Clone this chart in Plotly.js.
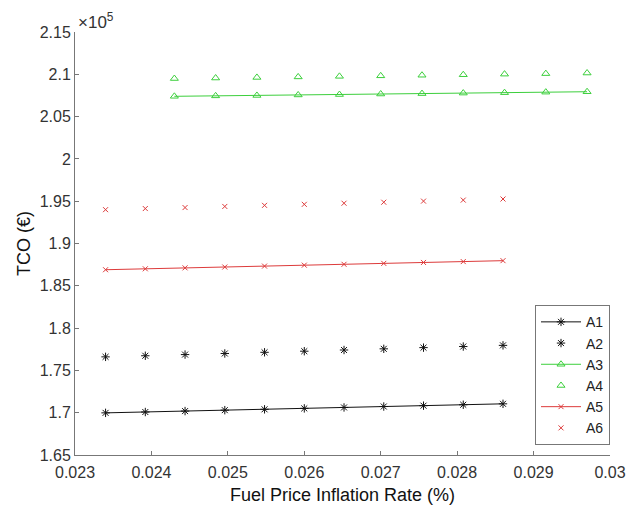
<!DOCTYPE html>
<html>
<head>
<meta charset="utf-8">
<script src="https://cdn.plot.ly/plotly-3.0.1.min.js"></script>
<style>html,body{margin:0;padding:0;background:#fff;}#chart{width:640px;height:513px;}</style>
</head>
<body>
<div id="chart"></div>
<script>
// x values (fuel price inflation rate)
const xLow = [0.0234, 0.02392, 0.02444, 0.02496, 0.02548, 0.026, 0.02652, 0.02704, 0.02756, 0.02808, 0.0286];
const xHigh = [0.0243, 0.02484, 0.02538, 0.02592, 0.02646, 0.027, 0.02754, 0.02808, 0.02862, 0.02916, 0.0297];

// TCO values (EUR)
const A1 = [169980, 170080, 170190, 170300, 170400, 170510, 170620, 170730, 170830, 170940, 171050];
const A2 = [176600, 176730, 176870, 177000, 177140, 177270, 177410, 177550, 177690, 177820, 177960];
const A3 = [207400, 207450, 207500, 207560, 207610, 207670, 207720, 207780, 207830, 207890, 207940];
const A4 = [209500, 209560, 209630, 209690, 209760, 209820, 209890, 209950, 210020, 210080, 210150];
const A5 = [186900, 187010, 187120, 187220, 187330, 187440, 187540, 187650, 187760, 187860, 187970];
const A6 = [194000, 194130, 194250, 194380, 194510, 194630, 194760, 194880, 195010, 195130, 195260];

const seriesNames = ['A1', 'A2', 'A3', 'A4', 'A5', 'A6'];

const yTickVals = [165000, 170000, 175000, 180000, 185000, 190000, 195000, 200000, 205000, 210000, 215000];
const yTickText = ['1.65', '1.7', '1.75', '1.8', '1.85', '1.9', '1.95', '2', '2.05', '2.1', '2.15'];
const xTickVals = [0.023, 0.024, 0.025, 0.026, 0.027, 0.028, 0.029, 0.03];
const xTickText = ['0.023', '0.024', '0.025', '0.026', '0.027', '0.028', '0.029', '0.03'];

const BLACK = '#111111', GREEN = '#3ccf3c', RED = '#dd3b3b';
const FONT = 'Liberation Sans, Arial, sans-serif';

const traces = [
  {x: xLow, y: A1, name: seriesNames[0], mode: 'lines+markers',
   line: {color: BLACK, width: 1}, marker: {symbol: 'asterisk-open', size: 7, color: BLACK, line: {color: BLACK, width: 1}}},
  {x: xLow, y: A2, name: seriesNames[1], mode: 'markers',
   marker: {symbol: 'asterisk-open', size: 7, color: BLACK, line: {color: BLACK, width: 1}}},
  {x: xHigh, y: A3, name: seriesNames[2], mode: 'lines+markers',
   line: {color: GREEN, width: 1}, marker: {symbol: 'triangle-up-open', size: 7, color: GREEN, line: {color: GREEN, width: 1}}},
  {x: xHigh, y: A4, name: seriesNames[3], mode: 'markers',
   marker: {symbol: 'triangle-up-open', size: 7, color: GREEN, line: {color: GREEN, width: 1}}},
  {x: xLow, y: A5, name: seriesNames[4], mode: 'lines+markers',
   line: {color: RED, width: 1}, marker: {symbol: 'x-thin-open', size: 5, color: RED, line: {color: RED, width: 1}}},
  {x: xLow, y: A6, name: seriesNames[5], mode: 'markers',
   marker: {symbol: 'x-thin-open', size: 5, color: RED, line: {color: RED, width: 1}}}
];

const layout = {
  width: 640, height: 513,
  margin: {l: 75, r: 30, t: 32, b: 58, pad: 0},
  paper_bgcolor: '#fff', plot_bgcolor: '#fff',
  font: {family: FONT, color: '#333', size: 16},
  showlegend: true,
  legend: {x: 1, xanchor: 'right', y: 0.023, yanchor: 'bottom',
    bgcolor: '#fff', bordercolor: '#777', borderwidth: 1, itemwidth: 40,
    font: {family: FONT, size: 14, color: '#222'}, tracegroupgap: 0},
  xaxis: {
    range: [0.023, 0.03], tickvals: xTickVals, ticktext: xTickText,
    showgrid: false, zeroline: false, showline: true, linecolor: '#777', linewidth: 1,
    ticks: 'inside', ticklen: 4, tickcolor: '#777', mirror: false, ticklabelstandoff: 3,
    tickfont: {family: FONT, size: 16, color: '#333'},
    title: {text: 'Fuel Price Inflation Rate (%)', font: {family: FONT, size: 18, color: '#111'}, standoff: 8}
  },
  yaxis: {
    range: [165000, 215000], tickvals: yTickVals, ticktext: yTickText,
    showgrid: false, zeroline: false, showline: true, linecolor: '#777', linewidth: 1,
    ticks: 'inside', ticklen: 4, tickcolor: '#777', mirror: false,
    tickfont: {family: FONT, size: 16, color: '#333'},
    title: {text: 'TCO (€)', font: {family: FONT, size: 18, color: '#111'}, standoff: 4}
  },
  annotations: [{
    xref: 'paper', yref: 'paper', x: 0, y: 1, xanchor: 'left', yanchor: 'bottom',
    xshift: 1, yshift: -2,
    text: '×10<sup>5</sup>', showarrow: false,
    font: {family: FONT, size: 17, color: '#333'}
  }]
};

Plotly.newPlot('chart', traces, layout, {displayModeBar: false, staticPlot: true});
</script>
</body>
</html>
